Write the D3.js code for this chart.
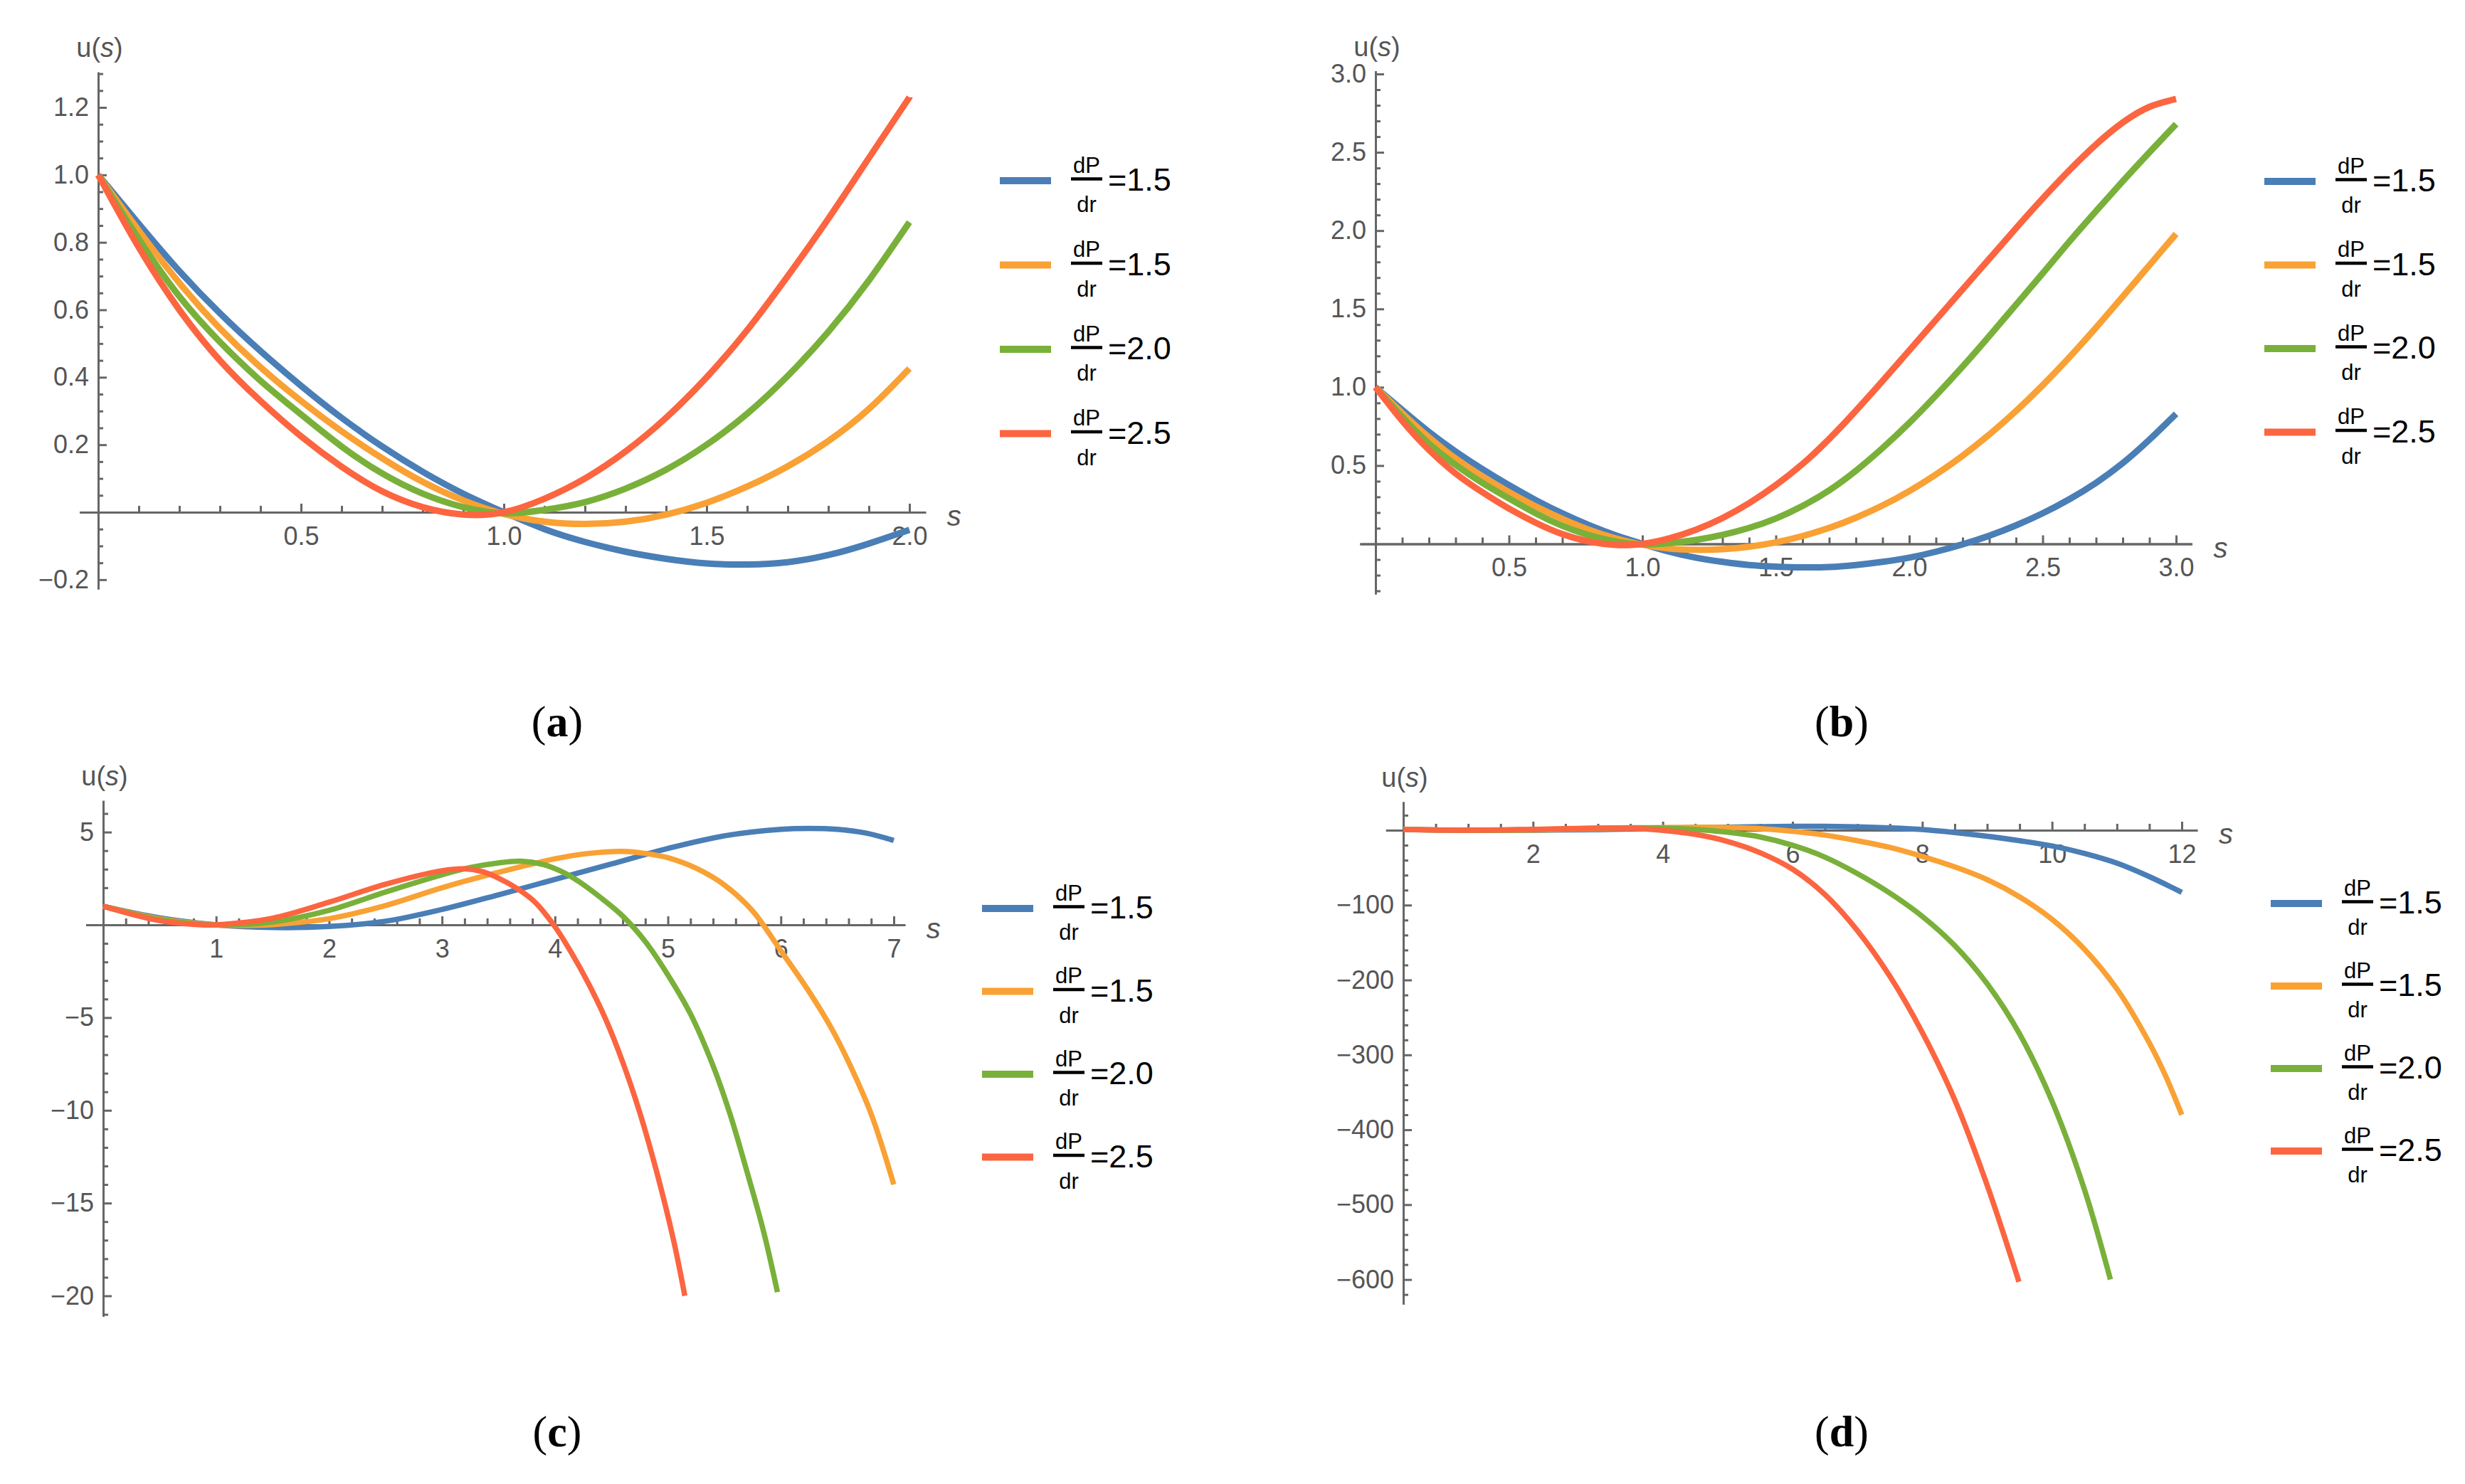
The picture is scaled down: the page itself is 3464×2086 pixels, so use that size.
<!DOCTYPE html>
<html>
<head>
<meta charset="utf-8">
<script src="https://cdn.jsdelivr.net/npm/d3@7"></script>
<style>
  body { margin: 0; background: #fff; }
  text { font-family: "Liberation Sans", Arial, sans-serif; }
</style>
</head>
<body>
<div id="chart"></div>
<script>
// values, s grid + u(s) per legend entry
var legendLabels = ["=1.5", "=1.5", "=2.0", "=2.5"];

var aS      = [0, 0.1, 0.2, 0.3, 0.4, 0.5, 0.6, 0.7, 0.8, 0.9, 1.0, 1.1, 1.2, 1.3, 1.4, 1.5, 1.6, 1.7, 1.8, 1.9, 2.0];
var aBlue   = [1, 0.855, 0.715, 0.59, 0.478, 0.375, 0.28, 0.195, 0.12, 0.055, 0, -0.05, -0.088, -0.117, -0.138, -0.152, -0.155, -0.148, -0.127, -0.093, -0.052];
var aOrange = [1, 0.835, 0.68, 0.545, 0.43, 0.33, 0.24, 0.16, 0.09, 0.035, -0.005, -0.028, -0.035, -0.028, -0.007, 0.028, 0.076, 0.136, 0.211, 0.306, 0.426];
var aGreen  = [1, 0.81, 0.64, 0.505, 0.39, 0.29, 0.195, 0.115, 0.055, 0.015, -0.003, 0.007, 0.03, 0.07, 0.126, 0.2, 0.292, 0.404, 0.535, 0.687, 0.86];
var aRed    = [1, 0.785, 0.6, 0.45, 0.33, 0.225, 0.135, 0.062, 0.015, -0.007, 0, 0.04, 0.1, 0.18, 0.28, 0.4, 0.54, 0.7, 0.87, 1.05, 1.23];

var bS      = [0, 0.1, 0.2, 0.3, 0.4, 0.5, 0.6, 0.7, 0.8, 0.9, 1.0, 1.1, 1.2, 1.3, 1.4, 1.5, 1.6, 1.7, 1.8, 1.9, 2.0,
               2.1, 2.2, 2.3, 2.4, 2.5, 2.6, 2.7, 2.8, 2.9, 3.0];
var bBlue   = [1, 0.855, 0.715, 0.59, 0.478, 0.375, 0.28, 0.195, 0.12, 0.055, 0, -0.05, -0.088, -0.115, -0.135, -0.145, -0.15, -0.148, -0.135, -0.115, -0.088,
               -0.05, -0.003, 0.052, 0.118, 0.195, 0.285, 0.39, 0.515, 0.665, 0.83];
var bOrange = [1, 0.835, 0.68, 0.545, 0.43, 0.33, 0.24, 0.16, 0.09, 0.035, -0.005, -0.03, -0.038, -0.034, -0.018, 0.01, 0.05, 0.102, 0.167, 0.245, 0.337,
               0.443, 0.563, 0.698, 0.848, 1.013, 1.191, 1.381, 1.579, 1.779, 1.979];
var bGreen  = [1, 0.81, 0.64, 0.505, 0.39, 0.29, 0.195, 0.115, 0.055, 0.015, -0.003, 0.005, 0.025, 0.057, 0.102, 0.162, 0.242, 0.342, 0.467, 0.612, 0.772,
               0.947, 1.132, 1.327, 1.527, 1.727, 1.93, 2.125, 2.315, 2.5, 2.68];
var bRed    = [1, 0.785, 0.6, 0.45, 0.33, 0.225, 0.135, 0.062, 0.015, -0.007, 0, 0.035, 0.09, 0.165, 0.26, 0.375, 0.51, 0.67, 0.85, 1.04, 1.235,
               1.43, 1.625, 1.82, 2.015, 2.205, 2.385, 2.55, 2.69, 2.79, 2.84];

// panel (c) and (d): [s, u] pairs, curves end at different s
var cBlue   = [[0,1],[0.5,0.375],[1,0],[1.5,-0.145],[2,-0.088],[2.5,0.195],[3,0.83],[3.5,1.62],[4,2.45],[4.5,3.28],[5,4.12],[5.5,4.8],[6,5.15],[6.25,5.2],[6.5,5.15],[6.75,4.95],[7,4.55]];
var cOrange = [[0,1],[0.5,0.33],[1,-0.005],[1.25,-0.037],[1.5,0.01],[2,0.33],[2.5,1.04],[3,2.0],[3.5,2.83],[4,3.56],[4.3,3.85],[4.6,3.96],[4.8,3.85],[5,3.62],[5.25,3.05],[5.5,2.15],[5.75,0.75],[6,-1.4],[6.25,-3.6],[6.45,-5.6],[6.6,-7.4],[6.8,-10.2],[7,-14]];
var cGreen  = [[0,1],[0.5,0.29],[1,-0.003],[1.5,0.155],[2,0.78],[2.5,1.77],[3,2.7],[3.25,3.09],[3.5,3.34],[3.7,3.43],[3.9,3.25],[4.05,2.9],[4.2,2.38],[4.4,1.49],[4.6,0.47],[4.8,-0.9],[5,-2.7],[5.2,-4.8],[5.4,-7.6],[5.55,-10.2],[5.7,-13.3],[5.85,-16.6],[5.97,-19.8]];
var cRed    = [[0,1],[0.5,0.225],[0.9,-0.007],[1,0],[1.5,0.36],[2,1.22],[2.5,2.19],[3,2.92],[3.2,3.02],[3.35,2.88],[3.5,2.52],[3.67,1.94],[3.82,1.24],[4,-0.1],[4.15,-1.55],[4.3,-3.2],[4.45,-5.1],[4.6,-7.4],[4.75,-10.1],[4.9,-13.3],[5.05,-17],[5.15,-20]];

var dBlue   = [[0,1],[1,0],[2,-0.09],[3,0.83],[4,2.45],[5,4.1],[6,5.15],[6.5,5.15],[7,4.55],[7.5,3.2],[8,1.0],[8.5,-3],[9,-8],[9.5,-14],[10,-21],[10.5,-31],[11,-44],[11.5,-62],[12,-83]];
var dOrange = [[0,1],[1,0],[2,0.33],[3,2.0],[4,3.56],[4.6,3.96],[5,3.62],[5.5,2.15],[6,-1.4],[6.5,-6.5],[7,-14],[7.5,-23],[8,-35],[8.5,-49],[9,-66],[9.5,-89],[10,-119],[10.5,-159],[11,-212],[11.5,-284],[11.75,-328],[12,-380]];
var dGreen  = [[0,1],[1,0],[2,0.78],[3,2.7],[3.7,3.43],[4.2,2.38],[4.6,0.47],[5,-2.7],[5.5,-9],[6,-20],[6.5,-36],[7,-58],[7.5,-84],[8,-115],[8.5,-154],[9,-205],[9.5,-272],[10,-362],[10.5,-480],[10.9,-600]];
var dRed    = [[0,1],[1,0],[2,1.22],[3,2.92],[3.5,2.52],[4,-0.15],[4.5,-5.5],[5,-15],[5.5,-30],[6,-52],[6.5,-86],[7,-134],[7.5,-195],[8,-270],[8.5,-360],[9,-474],[9.49,-603]];

// tick labels
var aXTicks = [0.5, 1.0, 1.5, 2.0],           aYTicks = [-0.2, 0.2, 0.4, 0.6, 0.8, 1.0, 1.2];
var bXTicks = [0.5, 1.0, 1.5, 2.0, 2.5, 3.0], bYTicks = [0.5, 1.0, 1.5, 2.0, 2.5, 3.0];
var cXTicks = [1, 2, 3, 4, 5, 6, 7],          cYTicks = [-20, -15, -10, -5, 5];
var dXTicks = [2, 4, 6, 8, 10, 12],           dYTicks = [-600, -500, -400, -300, -200, -100];

var colors = ["#4a7eb6", "#f9a134", "#79b03a", "#fc6540"];

function zip(s, u) { return s.map(function(v, i) { return [v, u[i]]; }); }

var panels = [
  { cap: "a", xd: [0, 2], xr: [138, 1278], yd: [0, 1.2], yr: [720, 151],
    xExt: [-0.046, 2.04], yExt: [-0.228, 1.305], xTicks: aXTicks, yTicks: aYTicks,
    xMinor: 0.1, yMinor: 0.05, fmt: d3.format(".1f"), lw: 9, curve: d3.curveNatural,
    series: [zip(aS, aBlue), zip(aS, aOrange), zip(aS, aGreen), zip(aS, aRed)],
    leg: [1405, 254, 118.5], capPos: [783, 1035] },
  { cap: "b", xd: [0, 3], xr: [1933, 3058], yd: [0, 3], yr: [764.5, 104],
    xExt: [-0.059, 3.06], yExt: [-0.32, 3.02], xTicks: bXTicks, yTicks: bYTicks,
    xMinor: 0.1, yMinor: 0.1, fmt: d3.format(".1f"), lw: 9, curve: d3.curveNatural,
    series: [zip(bS, bBlue), zip(bS, bOrange), zip(bS, bGreen), zip(bS, bRed)],
    leg: [3182, 255, 117.5], capPos: [2588, 1035] },
  { cap: "c", xd: [0, 7], xr: [145, 1256], yd: [0, -20], yr: [1300, 1821.5],
    xExt: [-0.154, 7.1], yExt: [-21.1, 6.7], xTicks: cXTicks, yTicks: cYTicks,
    xMinor: 0.2, yMinor: 1, fmt: d3.format("d"), lw: 7.5, curve: d3.curveCatmullRom.alpha(0.5),
    series: [cBlue, cOrange, cGreen, cRed],
    leg: [1380, 1277, 116.5], capPos: [783, 2033] },
  { cap: "d", xd: [0, 12], xr: [1972, 3066], yd: [0, -600], yr: [1167, 1798.6],
    xExt: [-0.27, 12.24], yExt: [-633, 38], xTicks: dXTicks, yTicks: dYTicks,
    xMinor: 0.5, yMinor: 20, fmt: d3.format("d"), lw: 7.5, curve: d3.curveCatmullRom.alpha(0.5),
    series: [dBlue, dOrange, dGreen, dRed],
    leg: [3191, 1270, 116], capPos: [2588, 2033] }
];

var svg = d3.select("#chart").append("svg")
  .attr("width", 3464)
  .attr("height", 2086)
  .style("background", "#fff");

function minorTicks(ext, step, majors) {
  var lo = Math.ceil(ext[0] / step - 1e-6), hi = Math.floor(ext[1] / step + 1e-6);
  return d3.range(lo, hi + 1)
    .map(function(i) { return +(i * step).toFixed(6); })
    .filter(function(v) {
      return v !== 0 && !majors.some(function(m) { return Math.abs(m - v) < 1e-6; });
    });
}

function labelFmt(fmt) {
  return function(d) { return fmt(d).replace("\u2212", "-").replace(/^-/, "\u2212"); };
}

function styleAxis(g) {
  g.attr("font-size", null).attr("font-family", null);
  g.selectAll(".domain").attr("stroke", "#666").attr("stroke-width", 3);
  g.selectAll(".tick line").attr("stroke", "#666").attr("stroke-width", 3);
  g.selectAll(".tick text")
    .attr("fill", "#555")
    .style("font-size", "36px");
}

panels.forEach(function(p) {
  var x = d3.scaleLinear().domain(p.xd).range(p.xr);
  var y = d3.scaleLinear().domain(p.yd).range(p.yr);

  // axis scales cover the full drawn axis length
  var xAx = x.copy().domain(p.xExt).range(p.xExt.map(x));
  var yAx = y.copy().domain(p.yExt).range(p.yExt.map(y));

  var g = svg.append("g");

  // minor ticks first
  g.append("g")
    .attr("transform", "translate(0," + y(0) + ")")
    .call(d3.axisBottom(xAx).tickValues(minorTicks(p.xExt, p.xMinor, p.xTicks))
      .tickSizeInner(-9).tickSizeOuter(0).tickFormat(""))
    .call(styleAxis);
  g.append("g")
    .attr("transform", "translate(" + x(0) + ",0)")
    .call(d3.axisLeft(yAx).tickValues(minorTicks(p.yExt, p.yMinor, p.yTicks))
      .tickSizeInner(-7).tickSizeOuter(0).tickFormat(""))
    .call(styleAxis);

  g.append("g")
    .attr("transform", "translate(0," + y(0) + ")")
    .call(d3.axisBottom(xAx).tickValues(p.xTicks)
      .tickSizeInner(-12).tickSizeOuter(0).tickPadding(20).tickFormat(labelFmt(p.fmt)))
    .call(styleAxis);
  g.append("g")
    .attr("transform", "translate(" + x(0) + ",0)")
    .call(d3.axisLeft(yAx).tickValues(p.yTicks)
      .tickSizeInner(-12).tickSizeOuter(0).tickPadding(13).tickFormat(labelFmt(p.fmt)))
    .call(styleAxis);

  // axis names
  var ul = g.append("text")
    .attr("x", x(0) + 2)
    .attr("y", yAx(p.yExt[1]) - 21)
    .attr("text-anchor", "middle")
    .attr("fill", "#555")
    .style("font-size", "38px");
  ul.append("tspan").text("u(");
  ul.append("tspan").style("font-style", "italic").text("s");
  ul.append("tspan").text(")");

  g.append("text")
    .attr("x", xAx(p.xExt[1]) + 40)
    .attr("y", y(0) + 19)
    .attr("text-anchor", "middle")
    .attr("fill", "#555")
    .style("font-size", "40px")
    .style("font-style", "italic")
    .text("s");

  // curves
  var line = d3.line()
    .x(function(d) { return x(d[0]); })
    .y(function(d) { return y(d[1]); })
    .curve(p.curve);

  g.selectAll(".curve")
    .data(p.series)
    .enter().append("path")
      .attr("class", "curve")
      .attr("d", line)
      .attr("fill", "none")
      .attr("stroke", function(d, i) { return colors[i]; })
      .attr("stroke-width", p.lw)
      .attr("stroke-linejoin", "round");

  // legend
  var lg = g.selectAll(".leg")
    .data(legendLabels)
    .enter().append("g")
      .attr("class", "leg")
      .attr("transform", function(d, i) {
        return "translate(" + p.leg[0] + "," + (p.leg[1] + i * p.leg[2]) + ")";
      });

  lg.append("line")
    .attr("x1", 0).attr("x2", 72)
    .attr("stroke", function(d, i) { return colors[i]; })
    .attr("stroke-width", 10);
  lg.append("line")
    .attr("x1", 100).attr("x2", 144)
    .attr("y1", -2.5).attr("y2", -2.5)
    .attr("stroke", "#000")
    .attr("stroke-width", 4.5);
  lg.append("text")
    .attr("x", 122).attr("y", -11.5)
    .attr("text-anchor", "middle")
    .style("font-size", "31px")
    .text("dP");
  lg.append("text")
    .attr("x", 122).attr("y", 44)
    .attr("text-anchor", "middle")
    .style("font-size", "31px")
    .text("dr");
  lg.append("text")
    .attr("x", 152).attr("y", 14)
    .style("font-size", "45px")
    .text(function(d) { return d; });

  // caption
  var cap = svg.append("text")
    .attr("x", p.capPos[0])
    .attr("y", p.capPos[1])
    .attr("text-anchor", "middle")
    .style("font-family", "'Liberation Serif', 'Times New Roman', serif")
    .style("font-size", "62px");
  cap.append("tspan").text("(");
  cap.append("tspan").style("font-weight", "bold").text(p.cap);
  cap.append("tspan").text(")");
});
</script>
</body>
</html>
